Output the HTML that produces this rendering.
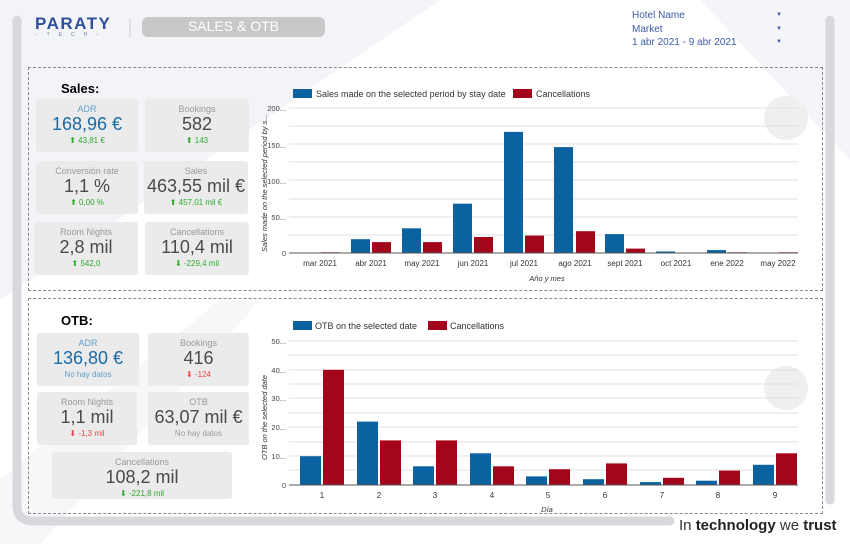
<!DOCTYPE html>
<html><head><meta charset="utf-8"><style>
*{margin:0;padding:0;box-sizing:border-box}
body{width:850px;height:544px;position:relative;overflow:hidden;background:#fff;font-family:"Liberation Sans",sans-serif}
.abs{position:absolute}
.card{position:absolute;background:#ebebeb;border-radius:3px;text-align:center;color:#4a4a4a}
.card .t{font-size:9px;color:#999;margin-top:5px}
.card .v{font-size:18px;line-height:21px}
.card .d{font-size:8px;color:#2eaa2e;margin-top:1px}
.blue{color:#1a6aa6!important}
.lb{color:#5fa0cc!important}
.red{color:#e94646!important}
.dash{position:absolute;border:1px dashed #888}
</style></head><body>
<svg class="abs" style="left:0;top:0" width="850" height="544">
<polygon points="0,0 440,0 0,300" fill="#f3f4f8"/>
<polygon points="0,480 220,300 260,300 40,544 0,544" fill="#f6f7f9"/>
<polygon points="600,0 850,0 850,160 700,0" fill="#f4f5f8"/>
<circle cx="786" cy="118" r="22" fill="#efefef"/>
<circle cx="786" cy="388" r="22" fill="#efefef"/>
<path d="M17,20 L17,505 Q17,521 33,521 L670,521" stroke="#d8d9dc" stroke-width="9" fill="none" stroke-linecap="round"/>
<line x1="830" y1="20" x2="830" y2="500" stroke="#d8d9dc" stroke-width="9" stroke-linecap="round"/>
<line x1="130" y1="18" x2="130" y2="38" stroke="#ccc" stroke-width="1"/>
<rect x="142" y="17" width="183" height="20" rx="6" fill="#c8c8c8"/>
</svg>
<div class="abs" style="left:35px;top:14px;font-size:17px;letter-spacing:1.5px;color:#2f4f9a;font-weight:bold">PARATY</div>
<div class="abs" style="left:36px;top:32px;font-size:5px;letter-spacing:9px;color:#6a7aa8">-TECH-</div>
<div class="abs" style="left:142px;top:18px;width:183px;text-align:center;color:#fff;font-size:14px">SALES &amp; OTB</div>
<div class="abs" style="left:632px;top:9px;font-size:10px;color:#3c5aa6;line-height:13.5px">Hotel Name<br>Market<br>1 abr 2021 - 9 abr 2021</div>
<div class="abs" style="left:776px;top:9px;font-size:6px;color:#3c5aa6;line-height:13.5px">▼<br>▼<br>▼</div>
<div class="dash" style="left:28px;top:67px;width:795px;height:224px"></div>
<div class="dash" style="left:28px;top:298px;width:795px;height:216px"></div>
<div class="abs" style="left:61px;top:81px;font-size:13px;font-weight:bold">Sales:</div>
<div class="abs" style="left:61px;top:313px;font-size:13px;font-weight:bold">OTB:</div>

<div class="card" style="left:36px;top:99px;width:102px;height:53px"><div class="t lb">ADR</div><div class="v blue">168,96 €</div><div class="d">⬆ 43,81 €</div></div>
<div class="card" style="left:145px;top:99px;width:104px;height:53px"><div class="t">Bookings</div><div class="v">582</div><div class="d">⬆ 143</div></div>
<div class="card" style="left:36px;top:161px;width:102px;height:53px"><div class="t">Conversión rate</div><div class="v">1,1 %</div><div class="d">⬆ 0,00 %</div></div>
<div class="card" style="left:144px;top:161px;width:104px;height:53px"><div class="t">Sales</div><div class="v">463,55 mil €</div><div class="d">⬆ 457,01 mil €</div></div>
<div class="card" style="left:34px;top:222px;width:104px;height:53px"><div class="t">Room Nights</div><div class="v">2,8 mil</div><div class="d">⬆ 542,0</div></div>
<div class="card" style="left:145px;top:222px;width:104px;height:53px"><div class="t">Cancellations</div><div class="v">110,4 mil</div><div class="d">⬇ -229,4 mil</div></div>

<div class="card" style="left:37px;top:333px;width:102px;height:53px"><div class="t lb">ADR</div><div class="v blue">136,80 €</div><div class="d lb">No hay datos</div></div>
<div class="card" style="left:148px;top:333px;width:101px;height:53px"><div class="t">Bookings</div><div class="v">416</div><div class="d red">⬇ -124</div></div>
<div class="card" style="left:37px;top:392px;width:100px;height:53px"><div class="t">Room Nights</div><div class="v">1,1 mil</div><div class="d red">⬇ -1,3 mil</div></div>
<div class="card" style="left:148px;top:392px;width:101px;height:53px"><div class="t">OTB</div><div class="v">63,07 mil €</div><div class="d" style="color:#999">No hay datos</div></div>
<div class="card" style="left:52px;top:452px;width:180px;height:47px"><div class="t">Cancellations</div><div class="v">108,2 mil</div><div class="d">⬇ -221,8 mil</div></div>

<svg class="abs" style="left:0;top:0" width="850" height="544" font-family="Liberation Sans, sans-serif">
<g stroke="#e2e2e2" stroke-width="1">
<line x1="289" x2="798" y1="108" y2="108"/><line x1="289" x2="798" y1="126" y2="126"/><line x1="289" x2="798" y1="144" y2="144"/><line x1="289" x2="798" y1="162" y2="162"/><line x1="289" x2="798" y1="180" y2="180"/><line x1="289" x2="798" y1="199" y2="199"/><line x1="289" x2="798" y1="217" y2="217"/><line x1="289" x2="798" y1="235" y2="235"/>
<line x1="289" x2="798" y1="341" y2="341"/><line x1="289" x2="798" y1="355" y2="355"/><line x1="289" x2="798" y1="370" y2="370"/><line x1="289" x2="798" y1="384" y2="384"/><line x1="289" x2="798" y1="398" y2="398"/><line x1="289" x2="798" y1="413" y2="413"/><line x1="289" x2="798" y1="427" y2="427"/><line x1="289" x2="798" y1="442" y2="442"/><line x1="289" x2="798" y1="456" y2="456"/><line x1="289" x2="798" y1="470" y2="470"/>
</g>
<g fill="#0a62a0">
<rect x="351" y="239.2" width="19" height="13.8"/><rect x="402" y="228.3" width="19" height="24.7"/><rect x="453" y="203.7" width="19" height="49.3"/><rect x="504" y="131.9" width="19" height="121.1"/><rect x="554" y="147.1" width="19" height="105.9"/><rect x="605" y="234.1" width="19" height="18.9"/><rect x="656" y="251.5" width="19" height="1.5"/><rect x="707" y="250.1" width="19" height="2.9"/>
<rect x="300" y="456.2" width="21" height="28.8"/><rect x="357" y="421.6" width="21" height="63.4"/><rect x="413" y="466.3" width="21" height="18.7"/><rect x="470" y="453.3" width="21" height="31.7"/><rect x="526" y="476.4" width="21" height="8.6"/><rect x="583" y="479.2" width="21" height="5.8"/><rect x="640" y="482.1" width="21" height="2.9"/><rect x="696" y="480.7" width="21" height="4.3"/><rect x="753" y="464.8" width="21" height="20.2"/>
</g>
<g fill="#a3051b">
<rect x="321" y="252.3" width="19" height="0.7"/><rect x="372" y="242.1" width="19" height="10.9"/><rect x="423" y="242.1" width="19" height="10.9"/><rect x="474" y="237" width="19" height="16"/><rect x="525" y="235.6" width="19" height="17.4"/><rect x="576" y="231.2" width="19" height="21.8"/><rect x="626" y="248.6" width="19" height="4.4"/><rect x="728" y="252.3" width="19" height="0.7"/><rect x="779" y="252.3" width="19" height="0.7"/>
<rect x="323" y="369.8" width="21" height="115.2"/><rect x="380" y="440.4" width="21" height="44.6"/><rect x="436" y="440.4" width="21" height="44.6"/><rect x="493" y="466.3" width="21" height="18.7"/><rect x="549" y="469.2" width="21" height="15.8"/><rect x="606" y="463.4" width="21" height="21.6"/><rect x="663" y="477.8" width="21" height="7.2"/><rect x="719" y="470.6" width="21" height="14.4"/><rect x="776" y="453.3" width="21" height="31.7"/>
</g>
<line x1="289" x2="798" y1="253" y2="253" stroke="#555"/>
<line x1="289" x2="798" y1="485" y2="485" stroke="#555"/>
<g font-size="7.5" fill="#444" text-anchor="end">
<text x="286" y="111">200...</text><text x="286" y="148">150...</text><text x="286" y="184">100...</text><text x="286" y="220">50...</text><text x="286" y="256">0</text>
<text x="286" y="344">50...</text><text x="286" y="373">40...</text><text x="286" y="401">30...</text><text x="286" y="430">20...</text><text x="286" y="459">10...</text><text x="286" y="488">0</text>
</g>
<g font-size="8" fill="#333" text-anchor="middle">
<text x="320" y="266">mar 2021</text><text x="371" y="266">abr 2021</text><text x="422" y="266">may 2021</text><text x="473" y="266">jun 2021</text><text x="524" y="266">jul 2021</text><text x="575" y="266">ago 2021</text><text x="625" y="266">sept 2021</text><text x="676" y="266">oct 2021</text><text x="727" y="266">ene 2022</text><text x="778" y="266">may 2022</text>
<text x="322" y="498">1</text><text x="379" y="498">2</text><text x="435" y="498">3</text><text x="492" y="498">4</text><text x="548" y="498">5</text><text x="605" y="498">6</text><text x="662" y="498">7</text><text x="718" y="498">8</text><text x="775" y="498">9</text>
<text x="547" y="281" font-style="italic" font-size="7.5">Año y mes</text>
<text x="547" y="512" font-style="italic" font-size="7.5">Día</text>
</g>
<text transform="translate(267,252) rotate(-90)" font-size="7.5" font-style="italic" fill="#333">Sales made on the selected period by s...</text>
<text transform="translate(267,460) rotate(-90)" font-size="7.5" font-style="italic" fill="#333">OTB on the selected date</text>
<g font-size="9" fill="#333">
<rect x="293" y="89" width="19" height="9" fill="#0a62a0"/><text x="316" y="97">Sales made on the selected period by stay date</text>
<rect x="513" y="89" width="19" height="9" fill="#a3051b"/><text x="536" y="97">Cancellations</text>
<rect x="293" y="321" width="19" height="9" fill="#0a62a0"/><text x="315" y="329">OTB on the selected date</text>
<rect x="428" y="321" width="19" height="9" fill="#a3051b"/><text x="450" y="329">Cancellations</text>
</g>
</svg>
<div class="abs" style="left:679px;top:517px;font-size:15px;color:#333;white-space:nowrap">In <b style="color:#222">technology</b> we <b style="color:#222">trust</b></div>
</body></html>
